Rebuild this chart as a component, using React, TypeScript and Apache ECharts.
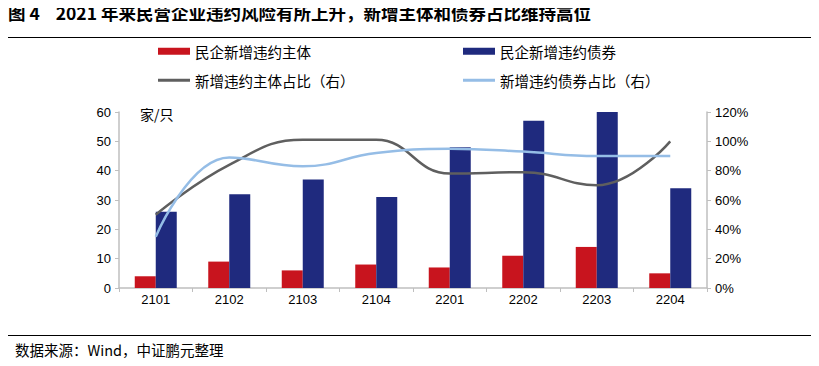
import React, { useEffect, useRef } from "react";
import * as echarts from "echarts";

const categories = ["2101", "2102", "2103", "2104", "2201", "2202", "2203", "2204"];
const newIssuers = [4, 9, 6, 8, 7, 11, 14, 5];
const newBonds = [26, 32, 37, 31, 48, 57, 60, 34];
const issuerShare = [50, 84, 101, 101, 78, 79, 70, 100];
const bondShare = [35, 89, 83, 92, 95, 93, 90, 90];

const seriesNames = ["民企新增违约主体", "民企新增违约债券", "新增违约主体占比（右）", "新增违约债券占比（右）"];

const RED = "#C8141E";
const NAVY = "#1F2A7E";
const GRAY = "#5F5F5F";
const LIGHT = "#95BDE6";

const TXT = "Liberation Sans, Arial, sans-serif";
const CJK = "Noto Sans CJK SC, sans-serif";

export default function App() {
  const ref = useRef<HTMLDivElement>(null);
  useEffect(() => {
    if (!ref.current) return;
    const chart = echarts.init(ref.current, undefined, { renderer: "svg" });
    const legendBase = (name: string, left: number, top: number, isBar: boolean) => ({
      data: [name],
      left,
      top,
      padding: 0,
      itemWidth: 32,
      itemHeight: isBar ? 7 : 3,
      icon: "rect",
      itemGap: 5,
      textStyle: { fontFamily: CJK, fontSize: 14.5, color: "#000", padding: [0, 0, 0, 0] },
    });
    chart.setOption({
      animation: false,
      backgroundColor: "#fff",
      grid: { left: 119, right: 112, top: 112, bottom: 78 },
      legend: [
        legendBase(seriesNames[0], 158, 44, true),
        legendBase(seriesNames[1], 463, 44, true),
        legendBase(seriesNames[2], 158, 73, false),
        legendBase(seriesNames[3], 463, 73, false),
      ],
      xAxis: {
        type: "category",
        data: categories,
        axisLine: { lineStyle: { color: "#BFBFBF", width: 1.5 } },
        axisTick: { show: true, length: 4, lineStyle: { color: "#BFBFBF" } },
        axisLabel: { color: "#000", fontFamily: TXT, fontSize: 13, margin: 5 },
      },
      yAxis: [
        {
          type: "value",
          min: 0,
          max: 60,
          interval: 10,
          splitLine: { show: false },
          axisLine: { show: true, lineStyle: { color: "#BFBFBF", width: 1.5 } },
          axisTick: { show: true, length: 4, lineStyle: { color: "#BFBFBF" } },
          axisLabel: { color: "#000", fontFamily: TXT, fontSize: 13, margin: 8 },
        },
        {
          type: "value",
          min: 0,
          max: 120,
          interval: 20,
          splitLine: { show: false },
          axisLine: { show: true, lineStyle: { color: "#BFBFBF", width: 1.5 } },
          axisTick: { show: true, length: 4, lineStyle: { color: "#BFBFBF" } },
          axisLabel: { color: "#000", fontFamily: TXT, fontSize: 13, margin: 8, formatter: "{value}%" },
        },
      ],
      series: [
        {
          name: seriesNames[0],
          type: "bar",
          data: newIssuers,
          barWidth: 21,
          barGap: "0%",
          itemStyle: { color: RED },
        },
        {
          name: seriesNames[1],
          type: "bar",
          data: newBonds,
          barWidth: 21,
          barGap: "0%",
          itemStyle: { color: NAVY },
        },
        {
          name: seriesNames[2],
          type: "line",
          yAxisIndex: 1,
          data: issuerShare,
          smooth: 0.45,
          symbol: "none",
          lineStyle: { color: GRAY, width: 2.5 },
          itemStyle: { color: GRAY },
        },
        {
          name: seriesNames[3],
          type: "line",
          yAxisIndex: 1,
          data: bondShare,
          smooth: 0.45,
          symbol: "none",
          lineStyle: { color: LIGHT, width: 2.5 },
          itemStyle: { color: LIGHT },
        },
      ],
      graphic: [
        {
          type: "text",
          left: 8,
          top: 4,
          style: {
            text: "图 4    2021 年来民营企业违约风险有所上升，新增主体和债券占比维持高位",
            font: "bold 17.5px 'Noto Sans CJK SC', sans-serif",
            fill: "#000",
          },
        },
        { type: "line", shape: { x1: 5, y1: 37.5, x2: 814, y2: 37.5 }, style: { stroke: "#000", lineWidth: 1 } },
        { type: "line", shape: { x1: 5, y1: 335.5, x2: 814, y2: 335.5 }, style: { stroke: "#000", lineWidth: 1 } },
        {
          type: "text",
          left: 15,
          top: 342,
          style: { text: "数据来源：Wind，中证鹏元整理", font: "14.5px 'Noto Sans CJK SC', sans-serif", fill: "#000" },
        },
        {
          type: "text",
          left: 140,
          top: 107,
          style: { text: "家/只", font: "14px 'Noto Sans CJK SC', sans-serif", fill: "#000" },
        },
      ],
    });
    return () => chart.dispose();
  }, []);
  return <div ref={ref} style={{ width: 819, height: 366, margin: -8 }} />;
}
